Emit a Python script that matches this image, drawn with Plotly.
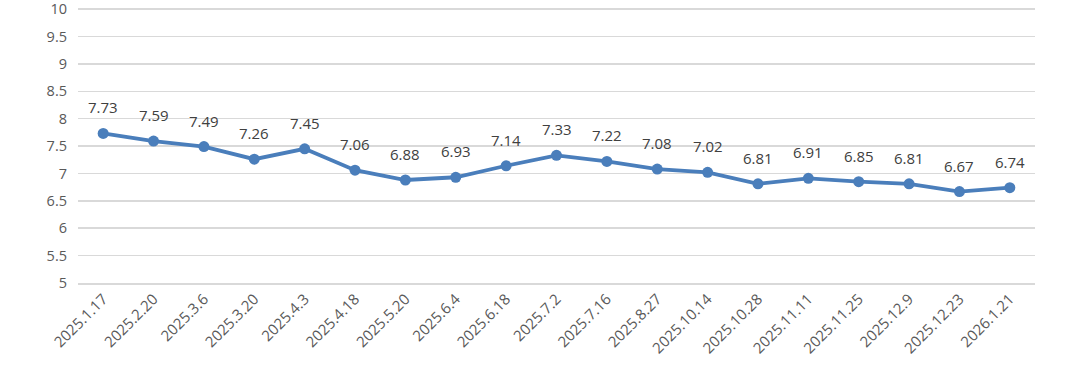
import plotly.graph_objects as go

dates = ["2025.1.17", "2025.2.20", "2025.3.6", "2025.3.20", "2025.4.3", "2025.4.18",
         "2025.5.20", "2025.6.4", "2025.6.18", "2025.7.2", "2025.7.16", "2025.8.27",
         "2025.10.14", "2025.10.28", "2025.11.11", "2025.11.25", "2025.12.9",
         "2025.12.23", "2026.1.21"]
values = [7.73, 7.59, 7.49, 7.26, 7.45, 7.06, 6.88, 6.93, 7.14, 7.33, 7.22, 7.08,
          7.02, 6.81, 6.91, 6.85, 6.81, 6.67, 6.74]
y_ticks = [5, 5.5, 6, 6.5, 7, 7.5, 8, 8.5, 9, 9.5, 10]

color = "#4a7ebb"
font_family = "Open Sans, Noto Sans, sans-serif"

fig = go.Figure()
fig.add_trace(go.Scatter(
    x=dates, y=values, mode="lines+markers",
    line=dict(color=color, width=3.8),
    marker=dict(color=color, size=11),
    hoverinfo="skip", showlegend=False, cliponaxis=False,
))

annotations = [
    dict(x=d, y=v, text=f"{v:.2f}", showarrow=False, yshift=26,
         font=dict(size=15, color="#404040", family=font_family))
    for d, v in zip(dates, values)
]

fig.update_layout(
    width=1080, height=372,
    margin=dict(l=78, r=45, t=8, b=89),
    paper_bgcolor="white", plot_bgcolor="white",
    annotations=annotations,
    font=dict(family=font_family, color="#595959", size=14),
    xaxis=dict(
        type="category", tickangle=-45, showgrid=False, automargin=False,
        showline=True, linecolor="#d9d9d9", linewidth=1.5,
        ticks="", tickfont=dict(size=15, color="#595959"),
        range=[-0.5, len(dates) - 0.5],
    ),
    yaxis=dict(
        range=[5, 10.02], tickvals=y_ticks, automargin=False,
        ticktext=[f"{t:g}" for t in y_ticks],
        showgrid=True, gridcolor="#d9d9d9", gridwidth=1.5,
        zeroline=False, showline=False, ticks="",
        ticklabelstandoff=10, ticklabeloverflow="allow",
        tickfont=dict(size=14.5, color="#595959"),
    ),
)

fig.write_html("out.html",
               config={"displayModeBar": False, "staticPlot": True},
               post_script="document.body.style.margin='0';document.body.style.overflow='hidden';")
